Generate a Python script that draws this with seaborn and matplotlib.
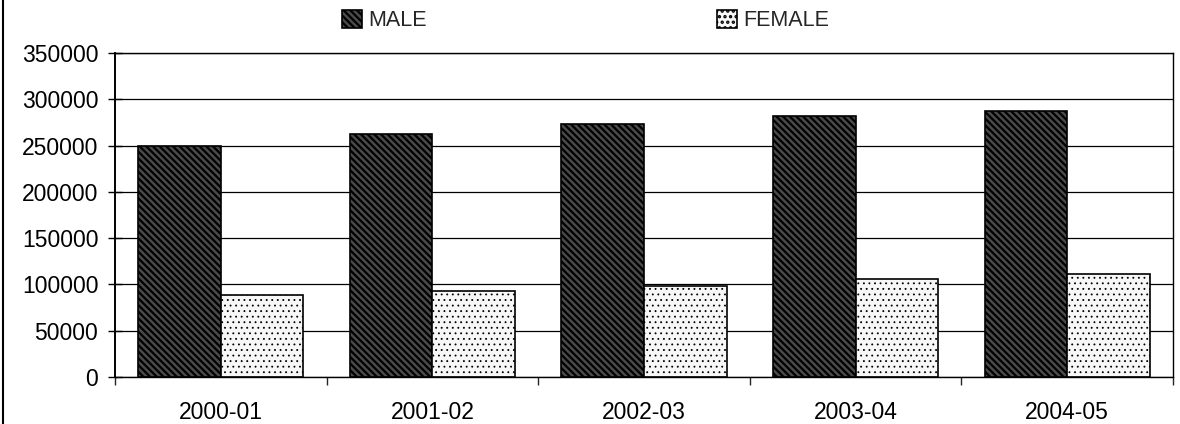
import matplotlib
matplotlib.use("Agg")
import matplotlib.pyplot as plt
import seaborn as sns
import pandas as pd
import numpy as np

years = ["2000-01", "2001-02", "2002-03", "2003-04", "2004-05"]
male = [250000, 262500, 273000, 282000, 287000]
female = [89000, 93000, 98500, 105500, 111000]
series = ["MALE", "FEMALE"]

df = pd.DataFrame({
    "year": years * 2,
    "value": male + female,
    "sex": [series[0]] * len(years) + [series[1]] * len(years),
})

sns.set_theme(style="white")
plt.rcParams["font.family"] = ["Liberation Sans", "DejaVu Sans"]
plt.rcParams["hatch.linewidth"] = 1.6

fig = plt.figure(figsize=(11.8, 4.24), dpi=100)
ax = fig.add_axes([115 / 1180, 1 - 377 / 424, (1173 - 115) / 1180, (377 - 53) / 424])

sns.barplot(data=df, x="year", y="value", hue="sex", ax=ax,
            palette=["white", "white"], width=0.78, saturation=1,
            edgecolor="black", linewidth=1.2, legend=True)

hatches = {"MALE": "\\\\\\\\\\", "FEMALE": "..."}
faces = {"MALE": "#4a4a4a", "FEMALE": "#f7f7f7"}
hlw = {"MALE": 1.6, "FEMALE": 0.6}


def style(p, s):
    p.set_hatch(hatches[s])
    p.set_facecolor(faces[s])
    if hasattr(p, "set_hatch_linewidth"):
        p.set_hatch_linewidth(hlw[s])


n = len(years)
for i, p in enumerate(ax.patches[: 2 * n]):
    style(p, series[0] if i < n else series[1])

ax.set_ylim(0, 350000)
ax.set_xlim(-0.5, n - 0.5)
ax.set_yticks(np.arange(0, 350001, 50000))
ax.yaxis.grid(True, color="black", linewidth=0.9)
ax.set_axisbelow(True)
ax.set_xlabel("")
ax.set_ylabel("")
for sp in ax.spines.values():
    sp.set_color("black")
    sp.set_linewidth(1.0)
ax.spines["left"].set_linewidth(1.4)

ax.tick_params(axis="y", direction="inout", length=10, width=1, labelsize=16.5, pad=7, colors="black", left=True)
ax.tick_params(axis="x", which="major", length=0, labelsize=16.5, pad=17, colors="black")
ax.set_xticks(np.arange(-0.5, n, 1), minor=True)
ax.tick_params(axis="x", which="minor", direction="out", length=6, width=1, bottom=True)

handles, labels = ax.get_legend_handles_labels()
for h, s in zip(handles, labels):
    style(h, s)
ax.legend(handles, labels, loc="lower center", bbox_to_anchor=(0.445, 1.04), ncol=2,
          frameon=False, fontsize=15.5, columnspacing=13.5, handlelength=0.9,
          handleheight=0.9, handletextpad=0.3, borderaxespad=0.0)

fig.add_artist(plt.Line2D([3 / 1180, 3 / 1180], [0, 1], color="black", linewidth=1.5))

fig.savefig("out.png", dpi=100)
